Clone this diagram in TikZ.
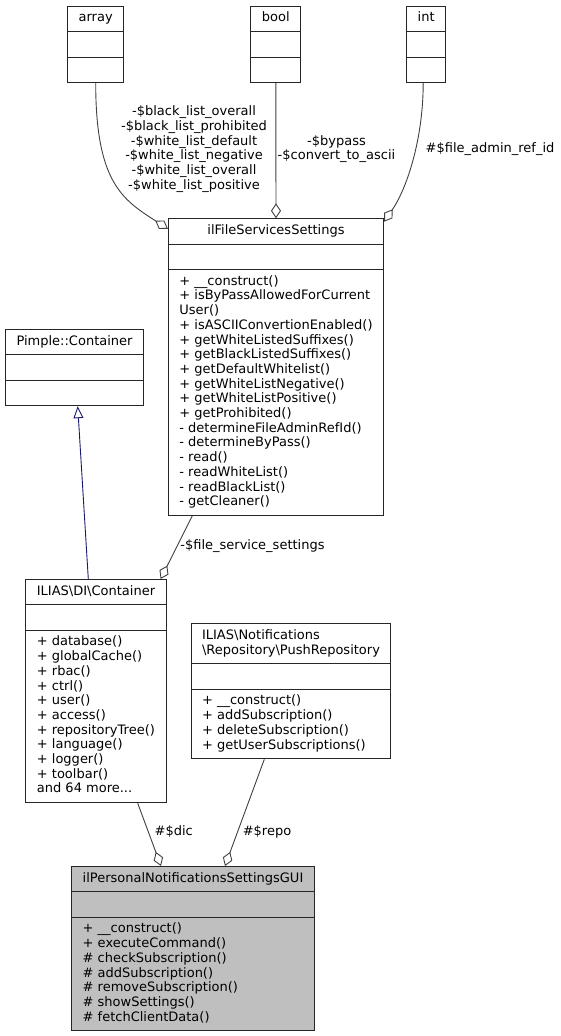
\documentclass[tikz,border=0pt]{standalone}
\usepackage{fontspec}
\setsansfont{DejaVu Sans}
\usepackage{tikz}
\usetikzlibrary{arrows.meta, shapes.multipart}
\definecolor{midblue}{HTML}{191970}
\definecolor{edgegrey}{HTML}{404040}

\begin{document}
\begin{tikzpicture}[
  x=1pt, y=-1pt,
  font=\sffamily\fontsize{13}{14.7}\selectfont,
  cls/.style={rectangle split, rectangle split parts=3, draw=black!85,
    line width=1pt, fill=white, inner xsep=11pt, inner ysep=4.85pt,
    align=left, rectangle split part align={center, left, left},
    anchor=north},
  main/.style={cls, fill=black!25},
  lbl/.style={inner sep=0pt, align=center},
  agg/.style={-{Diamond[open, length=15pt, width=10pt]}, draw=edgegrey,
    line width=0.9pt},
  inh/.style={-{Triangle[open, length=12pt, width=10pt]}, draw=midblue,
    line width=0.9pt},
]
  \useasboundingbox (0,0) rectangle (561,1036);

  \node[cls] (arr) at (95.7,5.7) {\strut array \nodepart{two}\strut \nodepart{three}\strut};
  \node[cls] (bool) at (275.8,5.7) {\strut bool \nodepart{two}\strut \nodepart{three}\strut};
  \node[cls] (int) at (426.2,5.7) {\strut int \nodepart{two}\strut \nodepart{three}\strut};

  \node[cls] (fss) at (276,218.3) {\strut ilFileServicesSettings
    \nodepart{two}\strut
    \nodepart{three}\strut + \_\_construct()\\
    + isByPassAllowedForCurrent\\
    User()\\
    + isASCIIConvertionEnabled()\\
    + getWhiteListedSuffixes()\\
    + getBlackListedSuffixes()\\
    + getDefaultWhitelist()\\
    + getWhiteListNegative()\\
    + getWhiteListPositive()\\
    + getProhibited()\\
    - determineFileAdminRefId()\\
    - determineByPass()\\
    - read()\\
    - readWhiteList()\\
    - readBlackList()\\
    - getCleaner()\strut};

  \node[cls] (pim) at (74.5,329) {\strut Pimple::Container \nodepart{two}\strut \nodepart{three}\strut};

  \node[cls] (dic) at (96,579) {\strut ILIAS\textbackslash DI\textbackslash Container
    \nodepart{two}\strut
    \nodepart{three}\strut + database()\\
    + globalCache()\\
    + rbac()\\
    + ctrl()\\
    + user()\\
    + access()\\
    + repositoryTree()\\
    + language()\\
    + logger()\\
    + toolbar()\\
    and 64 more...\strut};

  \node[cls] (repo) at (291,623.3) {\strut ILIAS\textbackslash Notifications\\
    \textbackslash Repository\textbackslash PushRepository\strut
    \nodepart{two}\strut
    \nodepart{three}\strut + \_\_construct()\\
    + addSubscription()\\
    + deleteSubscription()\\
    + getUserSubscriptions()\strut};

  \node[main] (gui) at (193,866) {\strut ilPersonalNotificationsSettingsGUI
    \nodepart{two}\strut
    \nodepart{three}\strut + \_\_construct()\\
    + executeCommand()\\
    \# checkSubscription()\\
    \# addSubscription()\\
    \# removeSubscription()\\
    \# showSettings()\\
    \# fetchClientData()\strut};

  \node[lbl] (larr) at (194,149.5) {\strut-\$black\_list\_overall\\
    -\$black\_list\_prohibited\\
    -\$white\_list\_default\\
    -\$white\_list\_negative\\
    -\$white\_list\_overall\\
    -\$white\_list\_positive\strut};
  \node[lbl] (lbool) at (336.5,149.7) {\strut-\$bypass\\-\$convert\_to\_ascii\strut};
  \node[lbl] (lint) at (490,150) {\strut\#\$file\_admin\_ref\_id};
  \node[lbl] (lfss) at (252.5,546.7) {\strut-\$file\_service\_settings};
  \node[lbl] (ldic) at (173.8,832.7) {\strut\#\$dic};
  \node[lbl] (lrepo) at (267,832.7) {\strut\#\$repo};

  \draw[agg] (arr.south) .. controls +(0,100) and +(-45,-29) .. ([yshift=-10.5pt]fss.north west);
  \draw[agg] (bool.south) -- (fss.north);
  \draw[agg] ([xshift=-3pt]int.south) .. controls +(0,58) and +(22,-32) .. ([yshift=-3.4pt]fss.north east);
  \draw[agg] ([xshift=24.3pt]fss.south west) -- ([xshift=-6pt]dic.north east);
  \draw[inh] ([xshift=-7.7pt]dic.north) -- ([xshift=3.2pt]pim.south);
  \draw[agg] ([xshift=41.7pt]dic.south) -- ([xshift=-32pt]gui.north);
  \draw[agg] ([xshift=-26.7pt]repo.south) -- ([xshift=32pt]gui.north);
\end{tikzpicture}
\end{document}
